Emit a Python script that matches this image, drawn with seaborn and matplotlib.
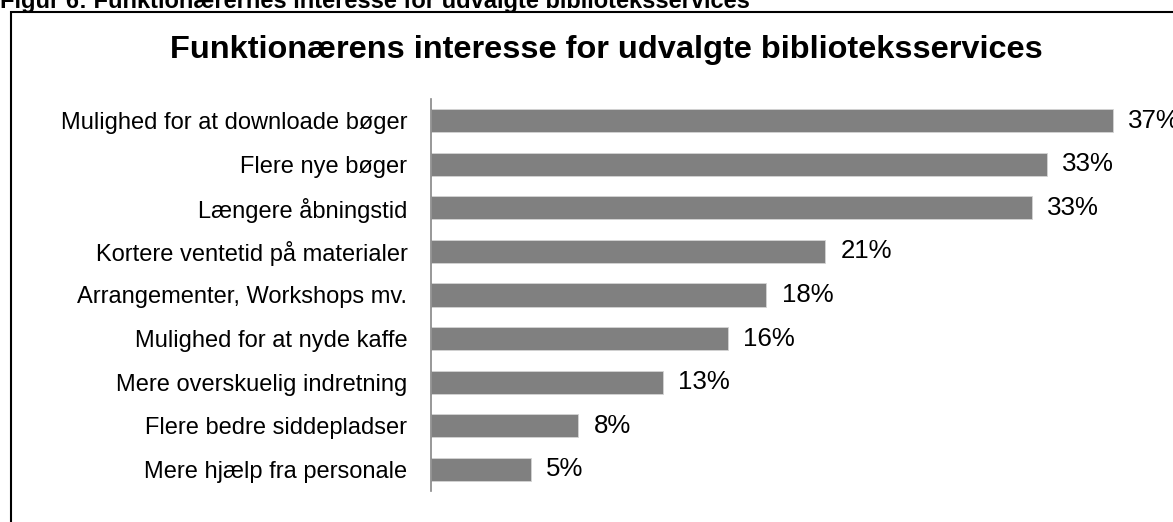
import matplotlib
matplotlib.use("Agg")
import matplotlib.pyplot as plt
import seaborn as sns
import pandas as pd
from matplotlib.patches import Rectangle

# Survey results: share of staff interested in each library service
services = [
    "Mulighed for at downloade bøger",
    "Flere nye bøger",
    "Længere åbningstid",
    "Kortere ventetid på materialer",
    "Arrangementer, Workshops mv.",
    "Mulighed for at nyde kaffe",
    "Mere overskuelig indretning",
    "Flere bedre siddepladser",
    "Mere hjælp fra personale",
]
shares = [37.0, 33.4, 32.6, 21.4, 18.2, 16.1, 12.6, 8.0, 5.4]

caption = "Figur 6: Funktionærernes interesse for udvalgte biblioteksservices"
title = "Funktionærens interesse for udvalgte biblioteksservices"

sns.set_theme(style="white")
plt.rcParams["font.family"] = ["Liberation Sans", "DejaVu Sans"]

W, H = 1173, 522
fig = plt.figure(figsize=(W / 100, H / 100), dpi=100)

# Frame around the chart area (right and bottom run off the page)
fig.patches.append(Rectangle((10.5 / W, -0.1), 1.2, (H - 11.5) / H + 0.1,
                             transform=fig.transFigure, fill=False,
                             edgecolor="#000000", linewidth=1.5))

# Figure caption, partly cut off at the top edge
fig.text(0.0, 1 - 8 / H, caption, fontsize=17, fontweight="bold",
         color="#000000", ha="left", va="baseline")

fig.text(606 / W, 1 - 57.7 / H, title, fontsize=23.4, fontweight="bold",
         color="#000000", ha="center", va="baseline")

ax = fig.add_axes([431 / W, 31 / H, 737.2 / W, 392 / H])
df = pd.DataFrame({"service": services, "share": shares})
sns.barplot(data=df, x="share", y="service", orient="h", color="#808080",
            saturation=1, width=0.53, ax=ax, edgecolor="#d4d4d4", linewidth=0.6)

ax.set_xlim(0, 40)
ax.set_ylim(len(services) - 0.5, -0.5)
ax.set_xlabel("")
ax.set_ylabel("")
ax.set_xticks([])
ax.tick_params(axis="y", length=0, pad=17, labelsize=17, colors="#000000")
for side in ["top", "right", "bottom"]:
    ax.spines[side].set_visible(False)
ax.spines["left"].set_color("#868686")
ax.spines["left"].set_linewidth(1.2)
ax.patch.set_alpha(0)

for i, v in enumerate(shares):
    ax.annotate(f"{v:.0f}%", xy=(v, i), xytext=(11, 0),
                textcoords="offset points", ha="left", va="center",
                fontsize=18.6, color="#000000", annotation_clip=False)

fig.savefig("out.png", dpi=100)
